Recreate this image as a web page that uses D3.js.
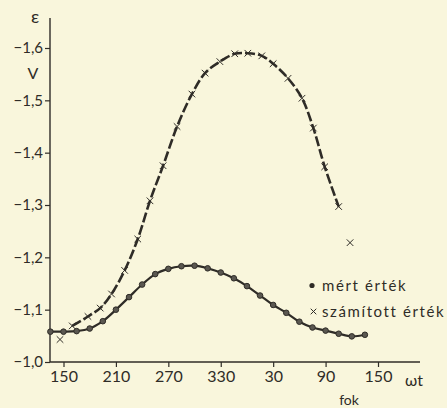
<!DOCTYPE html>
<html>
<head>
<meta charset="utf-8">
<script src="https://cdn.jsdelivr.net/npm/d3@7"></script>
<style>
  body { margin: 0; background: #f9f6dc; }
  svg { display: block; }
  text { font-family: Lato, "DejaVu Sans", sans-serif; fill: #2f2c27; }
</style>
</head>
<body>
<div id="chart"></div>
<script>
// ===========================================================
// DATA (angle in degrees, continuous past 360; epsilon in V)
// ===========================================================
var measuredAngle = [135, 150, 165, 180, 195, 210, 225, 240, 255, 270, 285, 300, 315,
                     330, 345, 360, 375, 390, 405, 420, 435, 450, 465, 480, 495];
var measuredValue = [-1.058, -1.058, -1.059, -1.064, -1.078, -1.100, -1.124, -1.148, -1.168,
                     -1.178, -1.183, -1.184, -1.179, -1.171, -1.160, -1.145, -1.127, -1.109,
                     -1.094, -1.077, -1.066, -1.060, -1.054, -1.049, -1.052];

var calcAngle = [146, 160, 178, 192, 205, 220, 235, 249, 264, 280, 297, 312, 329, 346,
                 361, 377, 390, 407, 423, 436, 449, 465, 478];
var calcValue = [-1.043, -1.069, -1.087, -1.103, -1.130, -1.175, -1.235, -1.308, -1.375,
                 -1.450, -1.512, -1.552, -1.574, -1.589, -1.590, -1.585, -1.570, -1.542,
                 -1.504, -1.447, -1.373, -1.297, -1.228];

var xTicks = [150, 210, 270, 330, 390, 450, 510];
var yTicks = [-1.0, -1.1, -1.2, -1.3, -1.4, -1.5, -1.6];

var legendLabels = ["mért érték", "számított érték"];

// ===========================================================
// SVG
// ===========================================================
var svgWidth = 447;
var svgHeight = 408;
var ink = "#2f2c27";

var svg = d3.select("#chart")
    .append("svg")
    .attr("width", svgWidth)
    .attr("height", svgHeight);

var x = d3.scaleLinear()
    .domain([150, 510])
    .range([63.5, 378]);

var y = d3.scaleLinear()
    .domain([-1.0, -1.6])
    .range([362, 48]);

var x0 = 50, x1 = 420, yTop = 18;

// ===========================================================
// AXES
// ===========================================================
var xAxis = d3.axisBottom(x)
    .tickValues(xTicks)
    .tickSize(5)
    .tickPadding(4)
    .tickFormat(function(d) { return d % 360; });

var gx = svg.append("g")
    .attr("transform", "translate(0," + y(-1.0) + ")")
    .call(xAxis);
gx.select(".domain").remove();
gx.append("line").attr("x1", x0).attr("x2", x1).attr("stroke", ink).attr("stroke-width", 1.4);
gx.selectAll(".tick line").attr("stroke", ink).attr("stroke-width", 1.2);
gx.selectAll(".tick text").style("font-size", "16px").style("font-family", "Lato, sans-serif").attr("fill", ink);

var yAxis = d3.axisLeft(y)
    .tickValues(yTicks)
    .tickSize(5)
    .tickPadding(2)
    .tickFormat(function(d) { return d3.format(".1f")(d).replace(".", ","); });

var gy = svg.append("g")
    .attr("transform", "translate(" + x0 + ",0)")
    .call(yAxis);
gy.select(".domain").remove();
gy.append("line").attr("y1", yTop).attr("y2", y(-1.0)).attr("stroke", ink).attr("stroke-width", 1.4);
gy.selectAll(".tick line").attr("stroke", ink).attr("stroke-width", 1.2);
gy.selectAll(".tick text").style("font-size", "15px").style("font-family", "Lato, sans-serif").attr("fill", ink);

// axis titles
svg.append("text").attr("x", 35).attr("y", 23).attr("text-anchor", "middle")
    .style("font-size", "18px").text("ε");
svg.append("text").attr("x", 33).attr("y", 79).attr("text-anchor", "middle")
    .style("font-size", "16px").text("V");
svg.append("text").attr("x", 414).attr("y", 386).attr("text-anchor", "middle")
    .style("font-size", "16px").text("ωt");
svg.append("text").attr("x", 349).attr("y", 405).attr("text-anchor", "middle")
    .style("font-size", "14px").text("fok");

// ===========================================================
// CURVES
// ===========================================================
var measured = measuredAngle.map(function(a, i) { return [a, measuredValue[i]]; });
var calc = calcAngle.map(function(a, i) { return [a, calcValue[i]]; });

var line = d3.line()
    .x(function(d) { return x(d[0]); })
    .y(function(d) { return y(d[1]); })
    .curve(d3.curveCatmullRom);

// calculated: thick dashed line, without the first and last point
svg.append("path")
    .datum(calc.slice(1, calc.length - 1))
    .attr("fill", "none")
    .attr("stroke", ink)
    .attr("stroke-width", 2.6)
    .attr("stroke-dasharray", "10,3")
    .attr("d", line);

svg.append("g").selectAll("path")
    .data(calc)
    .enter()
    .append("path")
    .attr("transform", function(d) { return "translate(" + x(d[0]) + "," + y(d[1]) + ")"; })
    .attr("d", d3.symbol(d3.symbolX, 30))
    .attr("fill", "none")
    .attr("stroke", ink)
    .attr("stroke-width", 1);

// measured: solid line with dots
svg.append("path")
    .datum(measured)
    .attr("fill", "none")
    .attr("stroke", ink)
    .attr("stroke-width", 2.2)
    .attr("d", line);

svg.append("g").selectAll("circle")
    .data(measured)
    .enter()
    .append("circle")
    .attr("cx", function(d) { return x(d[0]); })
    .attr("cy", function(d) { return y(d[1]); })
    .attr("r", 2.8)
    .attr("fill", "#5a5750")
    .attr("stroke", ink)
    .attr("stroke-width", 1);

// ===========================================================
// LEGEND
// ===========================================================
svg.append("circle").attr("cx", 312).attr("cy", 285.5).attr("r", 2.6).attr("fill", ink);
svg.append("path")
    .attr("transform", "translate(313.5,311.5)")
    .attr("d", d3.symbol(d3.symbolX, 22))
    .attr("stroke", ink).attr("stroke-width", 1).attr("fill", "none");
svg.append("text").attr("x", 322).attr("y", 291).style("font-size", "15px")
    .style("letter-spacing", "1.6px").text(legendLabels[0]);
svg.append("text").attr("x", 322).attr("y", 317).style("font-size", "15px")
    .style("letter-spacing", "1.6px").text(legendLabels[1]);
</script>
</body>
</html>
